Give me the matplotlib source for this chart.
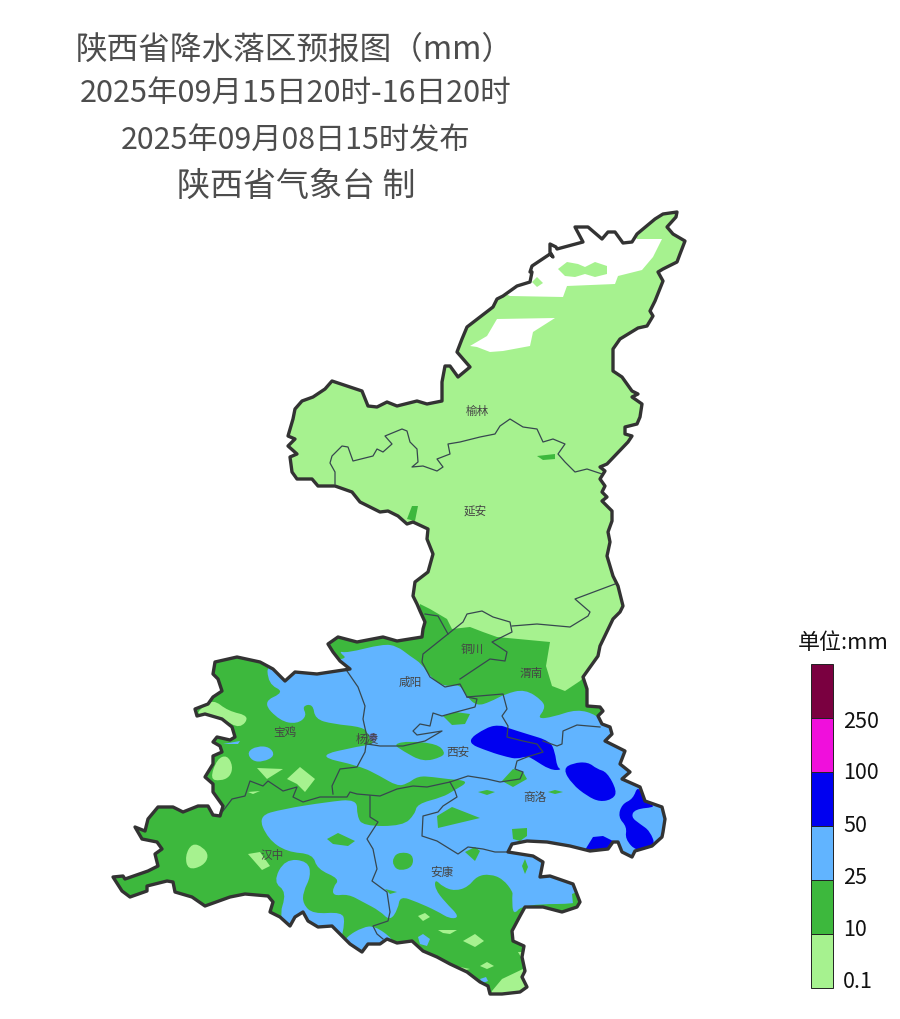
import matplotlib
matplotlib.use("Agg")
import matplotlib.pyplot as plt
from matplotlib.patches import Circle, PathPatch, Polygon, Rectangle
from matplotlib.path import Path

plt.rcParams["font.family"] = ["Noto Sans CJK SC", "DejaVu Sans"]

LIGHT = "#A6F28F"
GREEN = "#3DB83D"
BLUE = "#61B4FF"
DBLUE = "#0000F0"
MAGENTA = "#F00FDC"
MAROON = "#7A0040"

# map shapes in pixels
province = [
    (677,213),(676,218),(667,228),(673,235),(685,242),(680,255),(677,263),(663,270),(658,273),(663,282),
    (655,302),(650,312),(653,317),(647,327),(638,329),(620,340),(613,350),(613,372),(622,378),(632,392),
    (638,395),(632,398),(642,405),(640,418),(637,425),(625,428),(625,435),(632,437),(628,443),(607,465),
    (600,468),(605,472),(600,480),(605,487),(602,493),(607,498),(602,502),(612,512),(612,522),(608,533),
    (610,543),(607,557),(613,577),(618,587),(623,607),(620,613),(613,620),(600,647),(598,657),(583,678),
    (587,690),(587,707),(600,708),(603,712),(598,717),(602,725),(610,728),(612,735),(605,742),(625,752),
    (620,765),(630,773),(622,780),(640,788),(645,802),(662,808),(665,820),(663,833),(662,838),(652,847),
    (635,852),(632,858),(622,853),(618,843),(613,843),(608,850),(590,852),(570,847),(547,843),(527,842),
    (512,845),(508,853),(533,857),(543,863),(540,878),(550,877),(573,885),(580,903),(577,908),(562,913),
    (543,908),(525,908),(520,917),(512,932),(513,942),(524,947),(522,958),(525,972),(522,978),(527,988),
    (520,993),(502,995),(490,995),(488,987),(480,983),(467,973),(450,965),(437,958),(423,952),(412,942),
    (397,944),(387,940),(380,945),(368,945),(362,953),(350,945),(340,935),(332,927),(318,928),(308,922),
    (303,913),(295,918),(290,927),(280,918),(270,913),(273,903),(268,897),(245,895),(230,898),(205,907),
    (192,898),(175,893),(173,883),(167,882),(147,887),(147,892),(130,898),(122,892),(113,878),(123,877),
    (125,880),(148,872),(158,867),(155,855),(162,850),(157,843),(142,840),(135,828),(145,832),(148,820),
    (158,808),(173,808),(183,813),(198,807),(208,807),(213,816),(220,817),(223,807),(213,793),(213,785),
    (205,778),(213,765),(213,757),(222,753),(220,747),(213,743),(217,738),(230,741),(235,738),(232,728),
    (222,720),(205,715),(197,717),(195,710),(208,705),(213,698),(222,692),(218,680),(213,675),(215,663),
    (237,658),(260,663),(273,670),(285,682),(295,673),(317,675),(350,670),(340,662),(333,653),(328,645),
    (338,638),(357,643),(383,638),(397,642),(422,638),(423,630),(425,623),(420,612),(417,605),(413,597),
    (415,583),(428,573),(433,555),(427,540),(428,530),(413,523),(407,525),(398,517),(388,512),(380,513),
    (370,508),(360,503),(352,493),(335,487),(318,487),(312,480),(297,480),(292,473),(290,458),(297,455),
    (288,447),(295,440),(288,437),(293,420),(295,410),(302,402),(313,398),(325,390),(332,382),(362,392),
    (368,407),(377,408),(387,403),(397,407),(417,402),(427,405),(442,402),(442,383),(445,367),(450,367),
    (458,378),(470,368),(457,353),(462,340),(467,328),(493,308),(497,300),(503,297),(517,287),(530,283),
    (532,273),(530,273),(532,267),(550,255),(553,258),(550,253),(550,245),(556,248),(557,250),(583,243),
    (575,228),(588,228),(602,240),(608,233),(615,233),(623,244),(632,243),(637,235),(655,220),(663,215),
]

white_areas = [
    [(510,297),(563,298),(567,287),(615,285),(618,277),(642,271),(653,258),(662,240),(637,240),(630,230),(575,215),(540,245),(500,292)],
    [(470,347),(487,337),(497,320),(555,319),(533,333),(530,347),(503,352),(490,353),(477,348)],
]
light_on_white = [
    [(558,270),(567,263),(578,265),(585,268),(595,263),(607,267),(607,275),(595,278),(585,275),(575,278),(565,277)],
    [(532,283),(537,278),(543,284),(537,288)],
]
green_north = [
    [(537,457),(555,455),(555,460),(543,461)],
    [(407,520),(412,507),(418,507),(415,522)],
]
green_area = [
    (100,630),(415,630),(420,605),(430,610),(447,620),(452,630),(470,628),(483,633),(497,638),(550,643),
    (546,667),(552,687),(565,692),(580,682),(590,672),(600,700),(690,700),(690,1010),(100,1010),
]
blue_area = [
    (267,660),(350,662),(338,652),(347,654),(383,645),(397,647),(410,657),(422,665),(430,678),(445,688),
    (460,685),(467,698),(477,707),(490,703),(505,695),(525,690),(543,702),(545,710),(537,720),(553,718),
    (577,710),(597,716),(605,727),(680,730),(680,880),(590,905),(523,905),(513,917),(512,897),(513,893),
    (503,880),(490,875),(477,877),(468,888),(455,892),(443,888),(435,880),(435,890),(445,903),(460,918),
    (450,920),(437,912),(417,903),(400,897),(398,910),(390,922),(380,912),(363,903),(348,895),(333,897),
    (333,888),(340,880),(317,870),(313,855),(287,853),(268,840),(258,817),(283,810),(327,803),(357,800),
    (357,817),(363,827),(403,827),(415,815),(417,805),(443,798),(453,792),(470,782),(447,780),(433,778),
    (418,777),(407,785),(397,787),(380,777),(360,767),(315,757),(360,747),(375,745),(368,735),(363,728),
    (333,725),(315,720),(313,705),(302,707),(307,717),(297,725),(280,722),(262,703),(285,693),(268,685),
]
blue_patches = [
    [(247,753),(257,747),(270,748),(275,757),(263,763),(252,762)],
    [(223,745),(240,742),(238,745)],
    [(273,883),(285,860),(308,862),(311,877),(303,893),(303,905),(313,915),(342,913),(345,923),(340,945),(300,950),(278,920),(287,893)],
    [(346,938),(363,928),(375,927),(393,940),(395,950),(360,965),(340,950)],
    [(418,938),(423,935),(430,940),(427,947),(420,945)],
    [(480,980),(486,978),(488,982),(483,984)],
]
green_patches = [
    [(327,840),(338,834),(355,842),(348,847),(333,845)],
    [(393,745),(410,742),(437,745),(445,753),(442,758),(423,763),(403,752)],
    [(443,717),(455,713),(470,715),(465,725),(452,726)],
    [(502,782),(513,770),(523,773),(527,780),(513,788)],
    [(478,793),(487,791),(495,793),(487,796)],
    [(548,793),(555,791),(563,793),(555,795)],
    [(437,817),(452,808),(480,819),(438,829)],
    [(512,830),(527,829),(527,837),(520,842),(513,840)],
    [(465,853),(475,848),(480,852),(475,862)],
    [(393,858),(400,853),(413,855),(413,868),(400,872),(393,867)],
    [(522,867),(525,860),(528,868),(525,875)],
    [(572,895),(577,893),(582,905),(573,905)],
    [(385,890),(397,893),(390,895)],
]
light_patches = [
    [(200,710),(213,700),(228,712),(250,717),(240,730),(223,720),(197,716)],
    [(210,780),(217,760),(227,756),(233,767),(230,778),(220,782)],
    [(257,769),(283,770),(267,780)],
    [(287,780),(300,768),(315,780),(305,793),(297,785)],
    [(248,793),(260,792),(253,795)],
    [(185,857),(192,844),(203,848),(209,857),(203,867),(188,871)],
    [(248,855),(260,853),(270,867),(262,871)],
    [(418,917),(425,914),(430,918),(423,922)],
    [(438,931),(457,931),(450,935),(443,934)],
    [(463,942),(475,935),(484,942),(475,948)],
    [(480,967),(487,963),(494,967),(487,970)],
    [(455,967),(470,970),(462,972)],
    [(492,992),(502,980),(523,970),(527,997),(490,1000)],
    [(518,953),(525,953),(525,965)],
]
dblue_patches = [
    [(465,743),(487,728),(500,726),(508,729),(527,735),(550,742),(555,753),(557,768),(562,771),(550,771),(533,760),(527,757),(517,760),(507,758),(490,753)],
    [(563,770),(573,764),(588,763),(597,770),(607,773),(617,792),(613,800),(600,803),(587,797),(572,785)],
    [(638,786),(645,803),(657,808),(635,810),(631,818),(640,825),(650,832),(656,848),(637,853),(625,840),(627,828),(618,818),(622,805),(633,800)],
    [(585,851),(593,838),(603,837),(615,843),(608,852)],
]
city_lines = [
    [(335,485),(335,473),(330,464),(332,457),(342,447),(348,448),(353,462),(373,457),(377,450),(383,453),(392,445),(385,437),(402,430),(407,432),(410,443),(417,450),(418,463),(412,468),(423,467),(437,472),(443,468),(437,460),(450,455),(448,445),(460,443),(480,438),(495,435),(500,427),(510,420),(523,428),(537,430),(543,443),(553,440),(565,445),(558,455),(565,463),(575,473),(587,470),(602,475)],
    [(425,615),(438,617),(448,635),(423,655),(422,663),(430,678),(445,688),(460,685),(467,698),(477,700),(475,708),(460,712),(442,717),(433,714),(430,727),(420,725),(413,732),(417,736),(442,732),(425,742),(403,747),(380,747),(367,745)],
    [(448,635),(463,623),(467,615),(482,612),(493,618),(510,623),(512,633),(492,643),(507,653),(505,662),(490,660),(460,680)],
    [(512,627),(537,625),(570,628),(588,617),(590,613),(575,600),(615,585)],
    [(467,698),(503,695),(507,710),(502,717),(508,727),(507,738),(523,742),(537,745),(543,753),(527,758),(517,762),(515,770),(523,773),(520,780),(500,783),(487,780),(468,777),(450,783),(427,788),(413,787),(397,790),(380,797),(357,795),(350,793),(347,798),(320,798),(303,803),(293,798),(297,788),(283,792),(268,782),(263,787),(250,782),(245,797),(232,800),(223,812)],
    [(543,742),(557,747),(562,745),(563,732),(577,726),(600,728)],
    [(450,783),(455,792),(457,798),(443,807),(438,813),(423,817),(422,837),(437,842),(458,855),(468,848),(483,850),(495,853),(508,853)],
    [(370,797),(370,818),(378,823),(367,840),(373,850),(377,870),(372,882),(387,893),(390,913),(388,922),(373,927),(377,935),(383,940)],
    [(347,672),(358,688),(365,707),(363,720),(367,738),(365,753),(357,768),(340,770),(332,787),(333,795)],
]
city_names = ["榆林", "延安", "铜川", "渭南", "咸阳", "宝鸡", "杨凌", "西安", "商洛", "汉中", "安康"]
city_x = [477, 475, 472, 531, 410, 285, 367, 458, 535, 272, 442]
city_y = [411, 511, 649, 673, 682, 733, 739, 752, 798, 856, 872]

title_lines = ["陕西省降水落区预报图（mm）", "2025年09月15日20时-16日20时", "2025年09月08日15时发布", "陕西省气象台 制"]
title_x = [295, 296, 296, 296]
title_y = [50, 93, 141, 186]
title_size = [22.8, 22, 21.8, 23.8]

legend_colors = [LIGHT, GREEN, BLUE, DBLUE, MAGENTA, MAROON]
legend_edges = [989, 935, 881, 827, 773, 719, 665]
legend_labels = ["0.1", "10", "25", "50", "100", "250"]
legend_label_y = [982, 930, 878, 826, 773, 722]

fig = plt.figure(figsize=(9, 10.2), dpi=100, facecolor="white")
ax = fig.add_axes([0, 0, 1, 1])
ax.set_xlim(0, 900)
ax.set_ylim(1020, 0)
ax.axis("off")

outline = Polygon(province, closed=True, facecolor=LIGHT, edgecolor="none", zorder=1)
ax.add_patch(outline)


def fill(shape, color, z):
    p = Polygon(shape, closed=True, facecolor=color, edgecolor="none", zorder=z)
    ax.add_patch(p)
    p.set_clip_path(outline)


def fill_soft(shape, color, z):
    # small flecks stay angular, bigger contour blobs get round edges
    n = len(shape)
    if n <= 5:
        fill(shape, color, z)
        return
    mids = [((shape[i][0] + shape[(i + 1) % n][0]) / 2, (shape[i][1] + shape[(i + 1) % n][1]) / 2) for i in range(n)]
    verts = [mids[-1]]
    codes = [Path.MOVETO]
    for i in range(n):
        verts += [shape[i], mids[i]]
        codes += [Path.CURVE3, Path.CURVE3]
    p = PathPatch(Path(verts, codes), facecolor=color, edgecolor="none", zorder=z)
    ax.add_patch(p)
    p.set_clip_path(outline)


for s in white_areas:
    fill(s, "white", 2)
for s in light_on_white:
    fill(s, LIGHT, 3)
for s in green_north:
    fill(s, GREEN, 3)
fill(green_area, GREEN, 4)
fill_soft(blue_area, BLUE, 5)
for s in blue_patches:
    fill_soft(s, BLUE, 6)
for s in green_patches:
    fill_soft(s, GREEN, 6)
for s in light_patches:
    fill_soft(s, LIGHT, 7)
for s in dblue_patches:
    fill_soft(s, DBLUE, 8)

for line in city_lines:
    ax.plot([p[0] for p in line], [p[1] for p in line], color="#37474F", lw=0.9, zorder=9)

ax.add_patch(Polygon(province, closed=True, facecolor="none", edgecolor="#333333", lw=2.4, joinstyle="round", zorder=10))

ax.add_patch(Circle((373, 738), 4, facecolor="#5A5A9A", edgecolor="none", alpha=0.8, zorder=10))
for name, x, y in zip(city_names, city_x, city_y):
    ax.text(x, y, name, fontsize=8.4, color="#454545", ha="center", va="center", zorder=11)

for txt, x, y, size in zip(title_lines, title_x, title_y, title_size):
    ax.text(x, y, txt, fontsize=size, color="#4D4D4D", ha="center", va="center")

for i, c in enumerate(legend_colors):
    ax.add_patch(Rectangle((811, legend_edges[i + 1]), 22, legend_edges[i] - legend_edges[i + 1],
                           facecolor=c, edgecolor="#222222", lw=0.7))
for lab, y in zip(legend_labels, legend_label_y):
    ax.text(843, y, lab, fontsize=15.5, color="#111111", ha="left", va="center")
ax.text(843, 643, "单位:mm", fontsize=15.8, color="#111111", ha="center", va="center")

fig.savefig("out.png", dpi=100, facecolor="white")
